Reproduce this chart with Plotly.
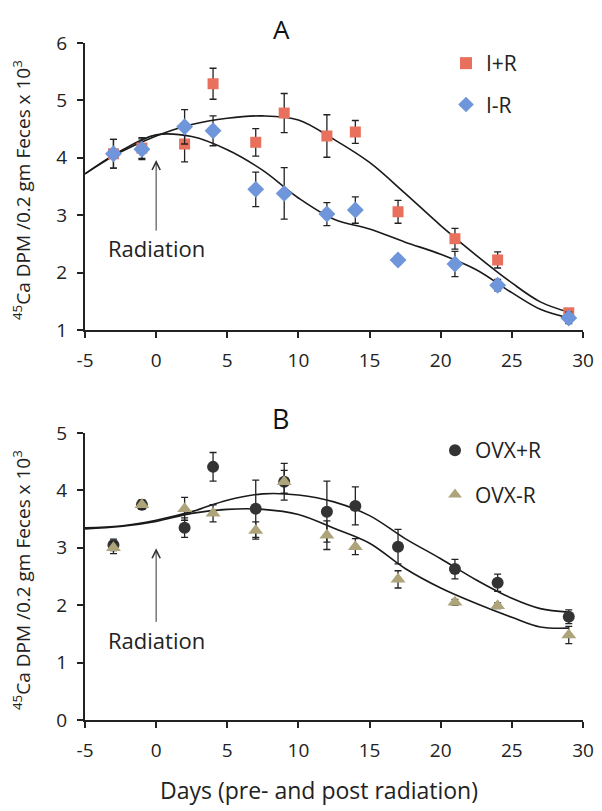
import plotly.graph_objects as go

# ---------------- data ----------------
days = [-3, -1, 2, 4, 7, 9, 12, 14, 17, 21, 24, 29]

ir_plus = [4.07, 4.17, 4.24, 5.29, 4.27, 4.78, 4.38, 4.45, 3.06, 2.59, 2.22, 1.30]
ir_plus_err = [0.25, 0.18, 0.31, 0.27, 0.24, 0.34, 0.37, 0.20, 0.20, 0.18, 0.14, 0.05]
ir_minus = [4.07, 4.15, 4.54, 4.47, 3.45, 3.38, 3.02, 3.09, 2.22, 2.15, 1.78, 1.21]
ir_minus_err = [0.25, 0.18, 0.30, 0.26, 0.30, 0.45, 0.20, 0.23, 0.07, 0.22, 0.10, 0.10]

ovx_plus = [3.05, 3.75, 3.35, 4.41, 3.68, 4.15, 3.63, 3.73, 3.02, 2.63, 2.39, 1.80]
ovx_plus_err = [0.10, 0.08, 0.17, 0.25, 0.50, 0.32, 0.53, 0.33, 0.30, 0.17, 0.15, 0.12]
ovx_minus = [3.00, 3.75, 3.68, 3.60, 3.30, 4.15, 3.22, 3.02, 2.45, 2.05, 1.99, 1.48]
ovx_minus_err = [0.10, 0.08, 0.20, 0.15, 0.15, 0.20, 0.25, 0.14, 0.15, 0.05, 0.05, 0.15]

# fitted curves
fit_x = [-5, -2.5, 0, 2.5, 5, 7.5, 10, 12.5, 15, 17.5, 20, 22.5, 25, 27, 29]
fit_ir_plus = [3.72, 4.10, 4.38, 4.58, 4.69, 4.73, 4.66, 4.32, 3.92, 3.38, 2.82, 2.30, 1.82, 1.49, 1.31]
fit_ir_minus = [3.72, 4.12, 4.40, 4.37, 4.14, 3.78, 3.30, 2.93, 2.76, 2.53, 2.32, 2.05, 1.65, 1.36, 1.21]
fit_ovx_plus = [3.35, 3.38, 3.48, 3.63, 3.83, 3.94, 3.92, 3.80, 3.56, 3.16, 2.81, 2.44, 2.12, 1.94, 1.88]
fit_ovx_minus = [3.33, 3.37, 3.46, 3.60, 3.67, 3.67, 3.58, 3.34, 3.08, 2.64, 2.30, 2.03, 1.79, 1.62, 1.60]

x_ticks = [-5, 0, 5, 10, 15, 20, 25, 30]
x_tick_labels = ["-5", "0", "5", "10", "15", "20", "25", "30"]

# ---------------- figure ----------------
FONT = "Open Sans"
OFF = 8                     # page body margin
W, H = 602 - OFF, 811 - OFF


def px_x(p):
    return (p - OFF) / W


def px_y(p):
    return 1 - (p - OFF) / H


fig = go.Figure()


def err(vals):
    return dict(type="data", array=vals, visible=True, color="#222222", thickness=1.3, width=3.5)


LINE = dict(color="#1a1a1a", width=1.6, shape="spline", smoothing=1.0)

# Panel A
fig.add_trace(go.Scatter(x=fit_x, y=fit_ir_plus, mode="lines", line=LINE,
                         xaxis="x", yaxis="y", showlegend=False, hoverinfo="skip"))
fig.add_trace(go.Scatter(x=fit_x, y=fit_ir_minus, mode="lines", line=LINE,
                         xaxis="x", yaxis="y", showlegend=False, hoverinfo="skip"))
fig.add_trace(go.Scatter(x=days, y=ir_plus, mode="markers", name="I+R", error_y=err(ir_plus_err),
                         marker=dict(symbol="square", size=11, color="#E8705C"), legendgroup="a1",
                         xaxis="x", yaxis="y", legend="legend"))
fig.add_trace(go.Scatter(x=days, y=ir_minus, mode="markers", name="I-R", error_y=err(ir_minus_err),
                         marker=dict(symbol="diamond", size=13, color="#6F95DA"), legendgroup="a2",
                         xaxis="x", yaxis="y", legend="legend"))

# Panel B
fig.add_trace(go.Scatter(x=fit_x, y=fit_ovx_plus, mode="lines", line=LINE,
                         xaxis="x2", yaxis="y2", showlegend=False, hoverinfo="skip"))
fig.add_trace(go.Scatter(x=fit_x, y=fit_ovx_minus, mode="lines", line=LINE,
                         xaxis="x2", yaxis="y2", showlegend=False, hoverinfo="skip"))
fig.add_trace(go.Scatter(x=days, y=ovx_plus, mode="markers", name="OVX+R", error_y=err(ovx_plus_err),
                         marker=dict(symbol="circle", size=12, color="#333333"), legendgroup="b1",
                         xaxis="x2", yaxis="y2", legend="legend2"))
fig.add_trace(go.Scatter(x=days, y=ovx_minus, mode="markers", name="OVX-R", error_y=err(ovx_minus_err),
                         marker=dict(symbol="triangle-up", size=13, color="#ADA47A"), legendgroup="b2",
                         xaxis="x2", yaxis="y2", legend="legend2"))

axis_common = dict(showline=True, linecolor="#222222", linewidth=2, ticks="outside", ticklen=6,
                   tickwidth=2, tickcolor="#222222", showgrid=False, zeroline=False, automargin=False,
                   ticklabelstandoff=6,
                   tickfont=dict(family=FONT, size=19, color="#222222"))

xdom = [px_x(85), px_x(583)]
fig.update_layout(
    width=W, height=H,
    margin=dict(l=0, r=0, t=0, b=0, pad=0, autoexpand=False),
    paper_bgcolor="white", plot_bgcolor="white",
    font=dict(family=FONT, color="#222222"),
    xaxis=dict(domain=xdom, range=[-5, 30], tickvals=x_ticks, ticktext=x_tick_labels, anchor="y", **axis_common),
    yaxis=dict(domain=[px_y(330), px_y(43)], range=[1, 6], dtick=1, anchor="x", **axis_common),
    xaxis2=dict(domain=xdom, range=[-5, 30], tickvals=x_ticks, ticktext=x_tick_labels, anchor="y2", **axis_common),
    yaxis2=dict(domain=[px_y(720), px_y(433)], range=[0, 5], dtick=1, anchor="x2", **axis_common),
    legend=dict(x=px_x(446), y=px_y(43), xanchor="left", yanchor="top", bgcolor="rgba(0,0,0,0)",
                font=dict(family=FONT, size=21, color="#222222"), tracegroupgap=11, itemsizing="constant"),
    legend2=dict(x=px_x(435), y=px_y(430), xanchor="left", yanchor="top", bgcolor="rgba(0,0,0,0)",
                 font=dict(family=FONT, size=21, color="#222222"), tracegroupgap=14, itemsizing="constant"),
)

ytitle = "<sup>45</sup>Ca DPM /0.2 gm Feces x 10<sup>3</sup>"
annots = [
    dict(text="A", x=px_x(281), y=px_y(9), xref="paper", yref="paper", showarrow=False,
         xanchor="center", yanchor="top", font=dict(family=FONT, size=26, color="#111111")),
    dict(text="B", x=px_x(280), y=px_y(418), xref="paper", yref="paper", showarrow=False,
         xanchor="center", yanchor="middle", font=dict(family=FONT, size=27, color="#111111")),
    dict(text=ytitle, x=px_x(22), y=px_y(190), xref="paper", yref="paper", showarrow=False, textangle=-90,
         xanchor="center", yanchor="middle", font=dict(family=FONT, size=19, color="#222222")),
    dict(text=ytitle, x=px_x(22), y=px_y(580), xref="paper", yref="paper", showarrow=False, textangle=-90,
         xanchor="center", yanchor="middle", font=dict(family=FONT, size=19, color="#222222")),
    dict(text="Days (pre- and post radiation)", x=px_x(319), y=px_y(790), xref="paper", yref="paper",
         xanchor="center", yanchor="middle",
         showarrow=False, font=dict(family=FONT, size=23, color="#222222")),
    # Radiation arrows
    dict(x=0, y=3.96, xref="x", yref="y", ax=0, ay=72, text="",
         showarrow=True, arrowhead=5, arrowsize=1.6, arrowwidth=1, arrowcolor="#333333"),
    dict(text="Radiation", x=0, y=2.43, xref="x", yref="y", showarrow=False,
         font=dict(family=FONT, size=22, color="#222222")),
    dict(x=0, y=2.99, xref="x2", yref="y2", ax=0, ay=75, text="",
         showarrow=True, arrowhead=5, arrowsize=1.6, arrowwidth=1, arrowcolor="#333333"),
    dict(text="Radiation", x=0, y=1.39, xref="x2", yref="y2", showarrow=False,
         font=dict(family=FONT, size=22, color="#222222")),
]
fig.update_layout(annotations=annots)

fig.write_html("out.html")
